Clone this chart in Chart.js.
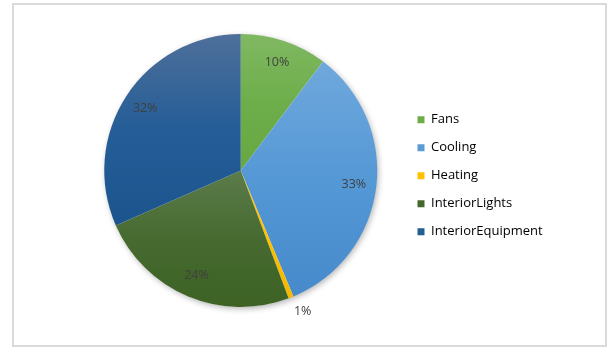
<!DOCTYPE html>
<html>
<head>
<meta charset="utf-8">
<script src="https://cdn.jsdelivr.net/npm/chart.js@4/dist/chart.umd.min.js"></script>
<style>
  html, body { margin: 0; padding: 0; background: #fff; }
  .frame {
    position: absolute; left: 12px; top: 3px;
    width: 595px; height: 344px;
    box-sizing: border-box;
    border: 2px solid #d9d9d9;
    background: #fff;
  }
  .frame canvas { display: block; }
</style>
</head>
<body>
<div class="frame"><canvas id="endUsePie"></canvas></div>
<script>
// ===== DATA =====
const categories = ["Fans", "Cooling", "Heating", "InteriorLights", "InteriorEquipment"];
const shares = [10.3, 33.4, 0.6, 24.1, 31.6];   // share of annual energy, %

// ===== STYLE =====
const legendColors = ["#70AD47", "#5B9BD5", "#FFC000", "#43682B", "#255E91"];
const gradTop    = ["#80b862", "#6fa8dc", "#ffc400", "#5c7c4b", "#4e6f9a"];
const gradMid    = ["#6eae4a", "#5598d6", "#ffc000", "#466a30", "#245d97"];
const gradBottom = ["#67a843", "#468acb", "#f5b800", "#3d6224", "#1c548e"];

const PIE_RADIUS = 136.5;
const LEGEND_FONT = { family: "Open Sans", size: 13 };
const LEGEND_PAD = 15;
const LEGEND_BOX = 7;
const total = shares.reduce((a, b) => a + b, 0);

// legend column width (same sum Chart.js uses) so the pie can be centred on the left part
const measure = document.createElement("canvas").getContext("2d");
measure.font = LEGEND_FONT.size + "px '" + LEGEND_FONT.family + "'";
const longest = Math.max(...categories.map(c => measure.measureText(c).width));
const legendWidth = LEGEND_PAD + LEGEND_BOX + LEGEND_FONT.size / 2 + longest + 10;
const legendLeft = 388.5;                // legend box edge inside the canvas
const rightPad = 591 - legendLeft - legendWidth;

// vertical gradient spanning each wedge, top light -> bottom dark
function sliceGradient(context) {
  const chart = context.chart;
  const area = chart.chartArea;
  const i = context.dataIndex;
  if (!area || i === undefined) return legendColors[i] || "#999";
  const cx = (area.left + area.right) / 2;
  const cy = (area.top + area.bottom) / 2;
  const before = shares.slice(0, i).reduce((a, b) => a + b, 0);
  const a0 = -Math.PI / 2 + 2 * Math.PI * before / total;
  const a1 = a0 + 2 * Math.PI * shares[i] / total;
  const ys = [cy, cy + PIE_RADIUS * Math.sin(a0), cy + PIE_RADIUS * Math.sin(a1)];
  [Math.PI / 2, 3 * Math.PI / 2].forEach(a => {
    if (a > a0 && a < a1) ys.push(cy + PIE_RADIUS * Math.sin(a));
  });
  const top = Math.min(...ys), bottom = Math.max(...ys);
  const g = chart.ctx.createLinearGradient(0, top, 0, bottom + 0.01);
  g.addColorStop(0, gradTop[i]);
  g.addColorStop(0.5, gradMid[i]);
  g.addColorStop(1, gradBottom[i]);
  return g;
}

// soft drop shadow under the whole pie
const pieShadow = {
  id: "pieShadow",
  beforeDatasetsDraw(chart) {
    const arc = chart.getDatasetMeta(0).data[0];
    if (!arc) return;
    const ctx = chart.ctx;
    ctx.save();
    ctx.shadowColor = "rgba(0,0,0,0.32)";
    ctx.shadowBlur = 6;
    ctx.shadowOffsetX = 1.5;
    ctx.shadowOffsetY = 2;
    ctx.fillStyle = "#fff";
    ctx.beginPath();
    ctx.arc(arc.x, arc.y, arc.outerRadius - 0.5, 0, Math.PI * 2);
    ctx.fill();
    ctx.restore();
  }
};

// percentage labels: inside end, tiny slices go outside
const sliceLabels = {
  id: "sliceLabels",
  afterDatasetsDraw(chart) {
    const ctx = chart.ctx;
    ctx.save();
    ctx.font = "12.5px 'Open Sans'";
    ctx.fillStyle = "#404040";
    chart.getDatasetMeta(0).data.forEach((arc, i) => {
      const { x, y, startAngle, endAngle, outerRadius } =
        arc.getProps(["x", "y", "startAngle", "endAngle", "outerRadius"], true);
      const mid = (startAngle + endAngle) / 2;
      const cos = Math.cos(mid), sin = Math.sin(mid);
      const text = Math.round(shares[i] / total * 100) + "%";
      if (shares[i] / total < 0.03) {
        const r = outerRadius + 8;
        ctx.textAlign = cos >= 0 ? "left" : "right";
        ctx.textBaseline = sin >= 0 ? "top" : "bottom";
        ctx.fillText(text, x + r * cos, y + r * sin);
      } else {
        const r = outerRadius - 22.5;
        ctx.textAlign = "center";
        ctx.textBaseline = "middle";
        ctx.fillText(text, x + r * cos, y + r * sin);
      }
    });
    ctx.restore();
  }
};

const pieChart = new Chart(document.getElementById("endUsePie"), {
  type: "pie",
  data: {
    labels: categories,
    datasets: [{
      data: shares,
      backgroundColor: sliceGradient,
      borderWidth: 0,
      hoverOffset: 0,
      radius: PIE_RADIUS,
      clip: false
    }]
  },
  options: {
    responsive: true,
    maintainAspectRatio: false,
    animation: false,
    events: [],
    layout: { padding: { left: 65, right: rightPad, top: 82.8, bottom: 91.8 } },
    plugins: {
      tooltip: { enabled: false },
      legend: {
        position: "right",
        align: "end",
        labels: {
          boxWidth: LEGEND_BOX,
          boxHeight: LEGEND_BOX,
          padding: LEGEND_PAD,
          color: "#595959",
          font: LEGEND_FONT,
          generateLabels(chart) {
            return categories.map((name, i) => ({
              text: name,
              fillStyle: legendColors[i],
              strokeStyle: legendColors[i],
              lineWidth: 0,
              hidden: false,
              index: i
            }));
          }
        }
      }
    }
  },
  plugins: [pieShadow, sliceLabels]
});
</script>
</body>
</html>
